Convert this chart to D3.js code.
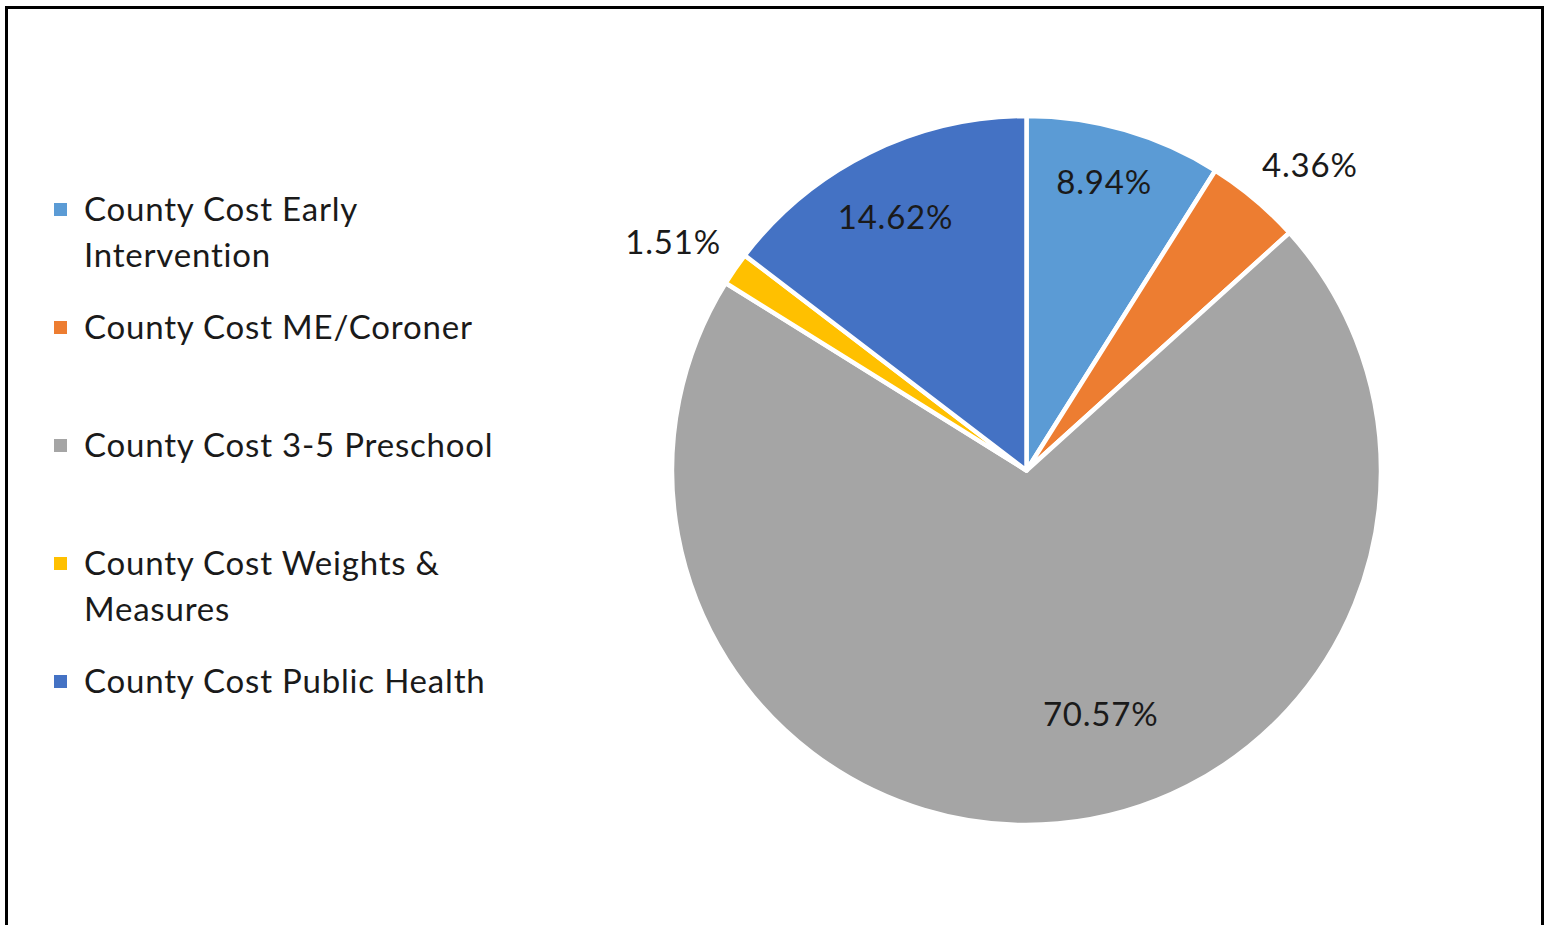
<!DOCTYPE html>
<html>
<head>
<meta charset="utf-8">
<script src="https://cdn.jsdelivr.net/npm/d3@7"></script>
<style>
  html, body { margin: 0; padding: 0; background: #fff; }
  svg { display: block; }
  text { font-family: Lato, "Open Sans", sans-serif; fill: #1a1a1a; letter-spacing: 0.8px; }
</style>
</head>
<body>
<svg id="chart" width="1551" height="925"></svg>
<script>
// ---- data ----
const categories = [
  "County Cost Early Intervention",
  "County Cost ME/Coroner",
  "County Cost 3-5 Preschool",
  "County Cost Weights & Measures",
  "County Cost Public Health"
];
const values = [8.94, 4.36, 70.57, 1.51, 14.62];
const labels = ["8.94%", "4.36%", "70.57%", "1.51%", "14.62%"];
const legendLines = [
  ["County Cost Early", "Intervention"],
  ["County Cost ME/Coroner"],
  ["County Cost 3-5 Preschool"],
  ["County Cost Weights &", "Measures"],
  ["County Cost Public Health"]
];
const colors = ["#5B9BD5", "#ED7D31", "#A5A5A5", "#FFC000", "#4472C4"];

// ---- layout config (label placement: angle offset in degrees, radius factor) ----
const labelAngleOffset = [-1.1, 2.7, -11.9, -1.7, -0.9];
const labelRadiusFactor = [0.846, 1.178, 0.716, 1.188, 0.808];

const svg = d3.select("#chart");

// border
svg.append("rect")
  .attr("x", 6.5).attr("y", 7.5)
  .attr("width", 1536).attr("height", 1000)
  .attr("fill", "none").attr("stroke", "#000").attr("stroke-width", 3);

const cx = 1026.5, cy = 470.5, R = 354.5;
const g = svg.append("g").attr("transform", `translate(${cx},${cy})`);

const color = d3.scaleOrdinal().domain(categories).range(colors);
const pie = d3.pie().value(d => d.value).sort(null);
const data = categories.map((c, i) => ({ cat: c, value: values[i], label: labels[i], i }));
const arcs = pie(data);
const arc = d3.arc().innerRadius(0).outerRadius(R);

g.selectAll("path.slice").data(arcs).enter().append("path")
  .attr("class", "slice")
  .attr("d", arc)
  .attr("fill", d => color(d.data.cat))
  .attr("stroke", "#fff")
  .attr("stroke-width", 4.5)
  .attr("stroke-linejoin", "round");

g.selectAll("text.lbl").data(arcs).enter().append("text")
  .attr("class", "lbl")
  .attr("text-anchor", "middle")
  .attr("dominant-baseline", "central")
  .attr("font-size", 33)
  .attr("transform", d => {
    const a = (d.startAngle + d.endAngle) / 2 + labelAngleOffset[d.data.i] * Math.PI / 180;
    const r = R * labelRadiusFactor[d.data.i];
    return `translate(${r * Math.sin(a)},${-r * Math.cos(a)})`;
  })
  .text(d => d.data.label);

// legend
const legendX = 54, legendTop = 221, itemStep = 118, lineStep = 46;
const lg = svg.append("g");
categories.forEach((c, i) => {
  const y0 = legendTop + i * itemStep;
  lg.append("rect")
    .attr("x", legendX).attr("y", y0 - 18)
    .attr("width", 13).attr("height", 13)
    .attr("fill", color(c));
  const t = lg.append("text")
    .attr("x", legendX + 30).attr("y", y0)
    .attr("font-size", 33);
  legendLines[i].forEach((ln, j) => {
    t.append("tspan").attr("x", legendX + 30).attr("y", y0 + j * lineStep).text(ln);
  });
});
</script>
</body>
</html>
